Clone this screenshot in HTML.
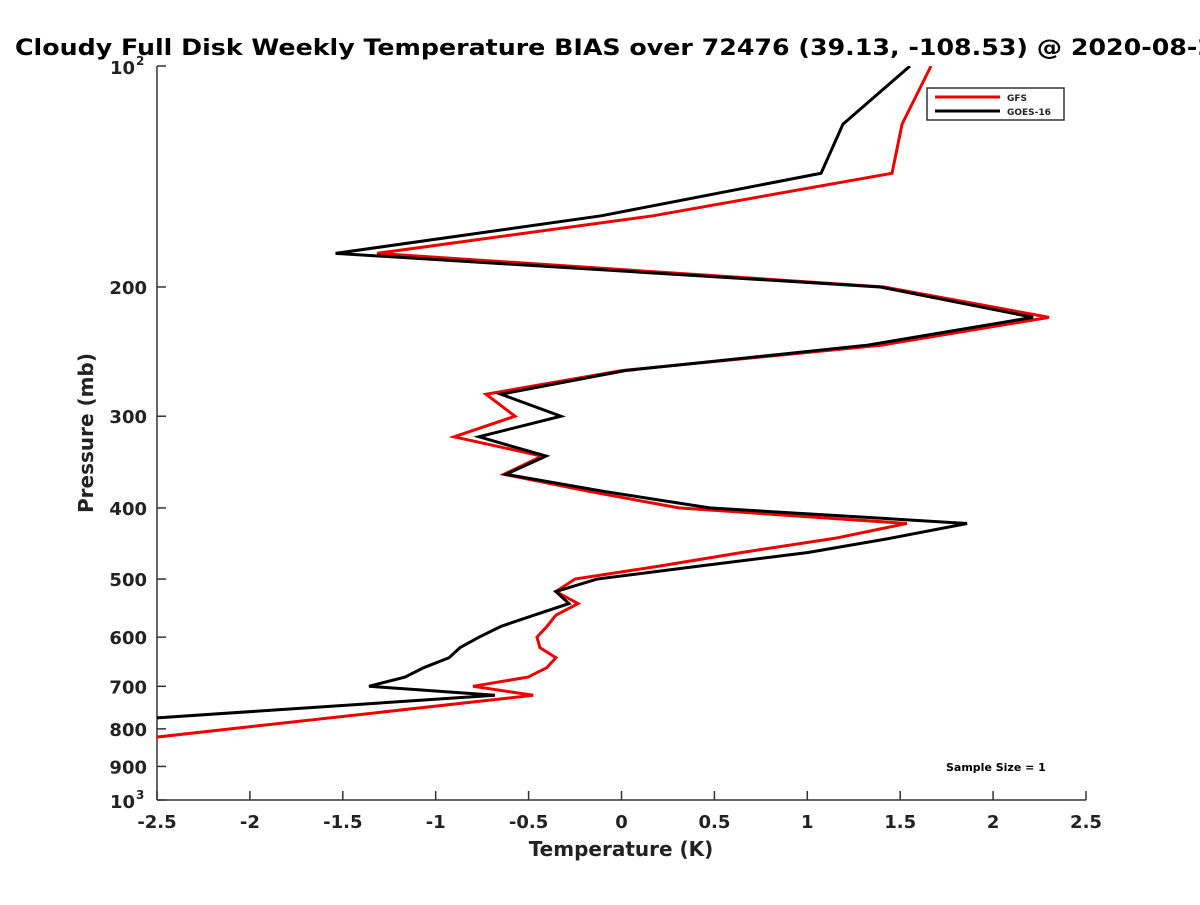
<!DOCTYPE html>
<html><head><meta charset="utf-8"><style>
body{margin:0;background:#fff;}
svg text{font-family:"DejaVu Sans","Liberation Sans",sans-serif;font-weight:bold;fill:#222;}
</style></head><body>
<svg width="1200" height="900" id="chart">
<defs><clipPath id="plotclip"><rect x="157" y="66" width="929" height="734"/></clipPath></defs>
<rect width="1200" height="900" fill="#fff"/>
<text x="15" y="55" font-size="22" textLength="1200" lengthAdjust="spacingAndGlyphs" style="fill:#000">Cloudy Full Disk Weekly Temperature BIAS over 72476 (39.13, -108.53) @ 2020-08-2</text>
<g id="axes"></g>
<g id="series" clip-path="url(#plotclip)"></g>
<g>
<rect x="927" y="88" width="137" height="32" fill="#fff" stroke="#333" stroke-width="1.5"/>
<line x1="935" y1="97" x2="1000" y2="97" stroke="#e00" stroke-width="3"/>
<text x="1007" y="101" font-size="9">GFS</text>
<line x1="935" y1="111" x2="1000" y2="111" stroke="#000" stroke-width="3"/>
<text x="1007" y="115" font-size="9">GOES-16</text>
</g>
<text x="946" y="771" font-size="11" style="fill:#000">Sample Size = 1</text>
<text x="621" y="856" font-size="20" text-anchor="middle">Temperature (K)</text>
<text transform="translate(93,433) rotate(-90)" font-size="20" text-anchor="middle">Pressure (mb)</text>
</svg>
<script>
const pressures = [100,120,140,160,180,200,220,240,260,280,300,320,340,360,380,400,420,440,460,480,500,520,540,560,580,600,620,640,660,680,700,720];
const goesValues = [1.553,1.192,1.074,-0.110,-1.539,1.391,2.215,1.327,0.019,-0.649,-0.326,-0.767,-0.406,-0.622,-0.089,0.474,1.860,1.445,1.004,0.422,-0.132,-0.353,-0.283,-0.471,-0.649,-0.767,-0.869,-0.928,-1.063,-1.165,-1.359,-0.681];
const goesTailP = [780];
const goesTailV = [-2.737];
const gfsValues = [1.666,1.510,1.456,0.169,-1.316,1.413,2.301,1.402,0,-0.729,-0.573,-0.901,-0.428,-0.632,-0.170,0.309,1.536,1.149,0.648,0.207,-0.250,-0.353,-0.234,-0.353,-0.401,-0.455,-0.439,-0.353,-0.401,-0.503,-0.799,-0.475];
const gfsTailP = [850];
const gfsTailV = [-3.04];
const xTicks = [-2.5,-2,-1.5,-1,-0.5,0,0.5,1,1.5,2,2.5];
const xTickLabels = ["-2.5","-2","-1.5","-1","-0.5","0","0.5","1","1.5","2","2.5"];
const yTicks = [200,300,400,500,600,700,800,900];
const yTickLabels = ["200","300","400","500","600","700","800","900"];

const X0=157,X1=1086,Y0=66,Y1=800;
function xs(v){return X0+(v+2.5)/5*(X1-X0);}
function ys(p){return Y0+(Math.log10(p)-2)*(Y1-Y0);}
const NS="http://www.w3.org/2000/svg";
const axes=document.getElementById('axes');
const ser=document.getElementById('series');
function mk(tag,attrs,parent){const e=document.createElementNS(NS,tag);for(const k in attrs)e.setAttribute(k,attrs[k]);parent.appendChild(e);return e;}

let ax=mk('line',{x1:X0,y1:Y0,x2:X0,y2:Y1,stroke:'#333','stroke-width':1.5},axes);


let bx=mk('line',{x1:X0,y1:Y1,x2:X1,y2:Y1,stroke:'#333','stroke-width':1.5},axes);



xTicks.forEach((v,i)=>{
  const t=mk('line',{x1:xs(v),y1:Y1,x2:xs(v),y2:Y1-9,stroke:'#333','stroke-width':1.5},axes);
  
  
  const l=mk('text',{x:xs(v),y:Y1+28,'font-size':18,'text-anchor':'middle'},axes);
  l.textContent=xTickLabels[i];
  
  
});
yTicks.forEach((p,i)=>{
  const t=mk('line',{x1:X0,y1:ys(p),x2:X0+9,y2:ys(p),stroke:'#333','stroke-width':1.5},axes);
  
  
  const l=mk('text',{x:X0-10,y:ys(p)+7,'font-size':18,'text-anchor':'end'},axes);
  l.textContent=yTickLabels[i];
  
  
});
[[100,'2'],[1000,'3']].forEach(([p,e])=>{
  const t=mk('line',{x1:X0,y1:ys(p),x2:X0+9,y2:ys(p),stroke:'#333','stroke-width':1.5},axes);
  
  
  const l=mk('text',{x:X0-22,y:ys(p)+8,'font-size':18,'text-anchor':'end'},axes);
  l.textContent='10';
  
  
  const s=mk('text',{x:X0-21,y:ys(p)-1,'font-size':12},axes);
  s.textContent=e;
  
  
});

function drawLine(vals,tp,tv,color,name){
  const pts=pressures.map((p,i)=>xs(vals[i])+','+ys(p));
  tp.forEach((p,i)=>pts.push(xs(tv[i])+','+ys(p)));
  const pl=mk('polyline',{points:pts.join(' '),fill:'none',stroke:color,'stroke-width':3,'stroke-linejoin':'miter'},ser);
  
  
}
drawLine(gfsValues,gfsTailP,gfsTailV,'#e00','gfs-line');
drawLine(goesValues,goesTailP,goesTailV,'#000','goes16-line');
</script>
</body></html>
